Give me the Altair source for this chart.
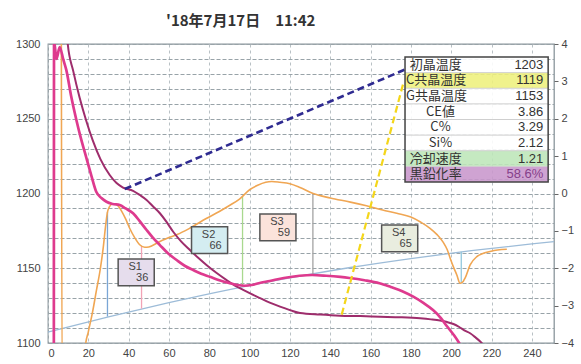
import altair as alt
import pandas as pd

# ---- thermal analysis traces -------------------------------------------
# cooling curve A (bright magenta), temperature in degC vs time in s
pink_x = [2.9, 3.0, 4.2, 5.8, 7.5, 9.1, 11.5, 14.1, 16.5, 19.0, 21.5, 24.0, 26.5,
          29.0, 32.0, 35.6, 38.5, 42.2, 45.5, 48.9, 52.0, 55.5, 59.5, 63.8, 68.0,
          72.0, 76.0, 80.3, 85.0, 90.2, 94.0, 97.5, 101.0, 104.5, 110.0, 117.0,
          124.8, 131.0, 138.0, 145.0, 149.5, 157.0, 164.4, 170.0, 176.0, 181.2,
          186.0, 191.0, 195.0, 198.0, 201.5, 204.4, 206.0]
pink_t = [1090, 1302, 1290, 1298, 1290, 1282.5, 1265, 1249, 1236, 1224, 1212, 1201,
          1197, 1194.5, 1193, 1192.3, 1190, 1186.8, 1181.5, 1175.6, 1170.5, 1165.5,
          1160, 1155.5, 1151.5, 1148.8, 1146.3, 1144.3, 1142, 1140, 1138.8, 1138.3,
          1138.8, 1140, 1141.5, 1143.5, 1145, 1145.5, 1145, 1144.2, 1143.5, 1142,
          1140, 1137.5, 1134.5, 1131, 1127, 1122, 1116.5, 1111, 1105, 1099, 1095]

# cooling curve B (dark magenta)
purple_x = [9.3, 9.8, 12.5, 15.7, 19.0, 22.2, 26.0, 30.6, 34.0, 37.2, 42.2, 45.5,
            48.9, 52.0, 55.5, 58.8, 62.1, 66.0, 70.4, 74.5, 78.6, 83.5, 88.6, 92.5,
            96.8, 100.5, 105.2, 110.0, 115.1, 120.0, 125.0, 135.0, 144.8, 155.0,
            164.7, 175.0, 184.6, 190.0, 194.5, 198.0, 201.1, 204.0, 206.5, 209.4,
            212.0, 214.4, 216.5]
purple_t = [1310, 1300, 1282, 1264, 1248.5, 1235.5, 1223, 1212.4, 1207, 1204, 1201.8,
            1199, 1195.7, 1191.5, 1186.8, 1181, 1174.4, 1168, 1162.2, 1157, 1152.2,
            1147, 1142.1, 1138.6, 1135.5, 1133, 1130, 1127, 1124.3, 1122, 1120, 1119,
            1118.3, 1118, 1117.6, 1117.2, 1116.5, 1115.8, 1115, 1114, 1112.7, 1110.7,
            1108.5, 1106.5, 1103.8, 1101, 1098]

# cooling-rate derivative (orange), right axis
orange_x = [6.6, 7.0, 18.0, 18.5, 20.0, 22.0, 24.0, 26.0, 27.5, 28.5, 29.5, 30.5,
            32.0, 33.5, 35.0, 36.5, 38.5, 40.5, 43.0, 45.5, 48.0, 50.0, 55.0, 60.0,
            64.0, 70.0, 78.5, 85.0, 90.0, 95.0, 100.0, 104.0, 108.0, 111.0, 115.0,
            120.0, 125.0, 131.5, 140.0, 150.0, 158.0, 166.0, 173.0, 180.0, 185.0,
            189.5, 193.0, 196.0, 198.0, 199.5, 201.0, 202.8, 204.4, 205.5, 207.0,
            209.4, 212.7, 216.0, 219.3, 223.0, 227.6]
orange_v = [5, -5, -5, -4.1, -3.7, -3.2, -2.6, -2.0, -1.4, -0.9, -0.5, -0.35, -0.28,
            -0.28, -0.35, -0.47, -0.68, -0.93, -1.18, -1.37, -1.44, -1.43, -1.3, -1.18,
            -1.1, -0.94, -0.67, -0.48, -0.32, -0.15, 0.1, 0.22, 0.3, 0.32, 0.3, 0.26,
            0.16, 0.0, -0.12, -0.23, -0.33, -0.44, -0.53, -0.63, -0.77, -0.93, -1.1,
            -1.3, -1.5, -1.73, -1.95, -2.18, -2.4, -2.38, -2.25, -1.91, -1.69, -1.6,
            -1.55, -1.51, -1.49]

# derivative baseline (light blue), right axis
base_x = [0, 30, 60, 90, 120, 150, 180, 210, 240, 251]
base_v = [-3.71, -3.30, -2.92, -2.57, -2.26, -1.98, -1.74, -1.53, -1.35, -1.29]

# stage markers: from the baseline up/down to the derivative curve
marker_x = [29.5, 46.4, 96.5, 131.4, 205.0]
marker_base = [-3.29, -3.08, -2.50, -2.16, -1.56]
marker_curve = [-0.5, -1.41, -0.08, 0.0, -2.39]
marker_color = ["#7aa6d6", "#f2a3b6", "#a9d98f", "#a3a3a3", "#92c8de"]

# stage areas
stage_names = ["S1", "S2", "S3", "S4"]
stage_values = [36, 66, 59, 65]

# summary table
table_labels = ["初晶温度", "C共晶温度", "G共晶温度", "CE値", "C%", "Si%", "冷却速度", "黒鉛化率"]
table_values = ["1203", "1119", "1153", "3.86", "3.29", "2.12", "1.21", "58.6%"]

# leader lines: liquidus point and eutectic plateau to their table rows
liquidus_x = [38.1, 177.1]
eutectic_x = [145.7, 176.5]
liquidus_t = [float(table_values[0]), 1282.9]
eutectic_t = [float(table_values[1]), 1275.0]

title_text = "'18年7月17日　11:42"

# ---- layout -------------------------------------------------------------
X_DOMAIN = [0, 251]
T_DOMAIN = [1100, 1300]
V_DOMAIN = [-4, 4]
FONT = "Liberation Sans"
JP = "Noto Sans CJK JP"

stage_x0 = [34.8, 71.2, 105.1, 165.5]
stage_top = [1156.2, 1177.8, 1186.3, 1179.0]
stage_w, stage_h = 17.9, 17.9
stage_fill = ["#e6dded", "#d4edf1", "#fbe3db", "#e9eddf"]

TBL_X0, TBL_X1 = 177.1, 248.1
TBL_TOP, ROW_H = 1291.3, 10.45
row_fill = ["#ffffff", "#eef07c", "#ffffff", "#ffffff", "#ffffff", "#ffffff",
            "#bde6b8", "#c896cc"]
label_x = [179.5, 177.6, 177.6, 194.7, 194.7, 194.7, 179.5, 179.5]
label_centered = [False, False, False, True, True, True, False, False]
value_color = ["#333333"] * 7 + ["#86408a"]


def xq(field="x"):
    return alt.X(f"{field}:Q",
                 scale=alt.Scale(domain=X_DOMAIN, nice=False, zero=False),
                 axis=alt.Axis(values=list(range(0, 241, 20)), format="d", title=None,
                               grid=True, gridColor="#b9c1c5", gridDash=[3, 3],
                               ticks=False, domain=False, labelPadding=4))


def tq(field="t"):
    return alt.Y(f"{field}:Q",
                 scale=alt.Scale(domain=T_DOMAIN, nice=False, zero=False),
                 axis=alt.Axis(orient="left", values=list(range(1100, 1301, 10)),
                               format="d", labelOverlap=False,
                               labelExpr="datum.value % 50 == 0 ? datum.label : ''",
                               title=None, grid=True, gridColor="#98a3a8",
                               gridDash=[4, 2], ticks=False, domain=False,
                               labelPadding=8))


def vq(field="v"):
    return alt.Y(f"{field}:Q",
                 scale=alt.Scale(domain=V_DOMAIN, nice=False, zero=False),
                 axis=alt.Axis(orient="right", values=list(range(-4, 5)), format="d",
                               title=None, grid=False, ticks=True, tickSize=4,
                               tickColor="#666666", domain=False, labelPadding=3))


# ---- right-axis layers (derivative) --------------------------------------
df_orange = pd.DataFrame({"x": orange_x, "v": orange_v})
df_base = pd.DataFrame({"x": base_x, "v": base_v})
df_mark = pd.DataFrame({"x": marker_x, "v": marker_base, "v2": marker_curve,
                        "c": marker_color})

baseline = alt.Chart(df_base).mark_line(color="#9dbcd8", strokeWidth=1.3, clip=True,
                                        interpolate="monotone").encode(x=xq(), y=vq())
markers = alt.Chart(df_mark).mark_rule(strokeWidth=1.3).encode(
    x=xq(), y=vq(), y2=alt.Y2("v2:Q"), color=alt.Color("c:N", scale=None))
orange = alt.Chart(df_orange).mark_line(color="#f0a653", strokeWidth=1.6, clip=True,
                                        interpolate="monotone").encode(x=xq(), y=vq())
right = alt.layer(baseline, markers, orange)

# ---- left-axis layers (temperature) --------------------------------------
df_pink = pd.DataFrame({"x": pink_x, "t": pink_t})
df_purple = pd.DataFrame({"x": purple_x, "t": purple_t})
df_liq = pd.DataFrame({"x": liquidus_x, "t": liquidus_t})
df_eut = pd.DataFrame({"x": eutectic_x, "t": eutectic_t})

purple = alt.Chart(df_purple).mark_line(color="#9e2d6c", strokeWidth=2.0, clip=True,
                                        interpolate="monotone").encode(x=xq(), y=tq())
pink = alt.Chart(df_pink).mark_line(color="#de3a8e", strokeWidth=2.7, clip=True,
                                    interpolate="monotone").encode(x=xq(), y=tq())
liq_line = alt.Chart(df_liq).mark_line(color="#2f2b91", strokeWidth=2.6,
                                       strokeDash=[7, 4]).encode(x=xq(), y=tq())
eut_line = alt.Chart(df_eut).mark_line(color="#f4d61a", strokeWidth=2.2,
                                       strokeDash=[7, 4]).encode(x=xq(), y=tq())

df_stage = pd.DataFrame({
    "x": stage_x0,
    "x1": [v + stage_w for v in stage_x0],
    "t": stage_top,
    "t1": [v - stage_h for v in stage_top],
    "xm": [v + stage_w / 2 for v in stage_x0],
    "tm": [v - stage_h / 2 for v in stage_top],
    "name": stage_names,
    "val": [str(v) for v in stage_values],
    "fill": stage_fill,
})
stage_box = alt.Chart(df_stage).mark_rect(stroke="#555555", strokeWidth=1.5).encode(
    x=xq(), x2=alt.X2("x1:Q"), y=tq(), y2=alt.Y2("t1:Q"),
    fill=alt.Color("fill:N", scale=None))
stage_name = alt.Chart(df_stage).mark_text(font=FONT, fontSize=11, color="#444444",
                                           dx=-1, dy=-5.5).encode(
    x=xq("xm"), y=tq("tm"), text="name:N")
stage_val = alt.Chart(df_stage).mark_text(font=FONT, fontSize=11, color="#444444",
                                          dx=6, dy=6).encode(
    x=xq("xm"), y=tq("tm"), text="val:N")

rows = list(range(len(table_labels)))
df_tbl = pd.DataFrame({
    "x": [TBL_X0] * len(rows),
    "x1": [TBL_X1] * len(rows),
    "t": [TBL_TOP - i * ROW_H for i in rows],
    "t1": [TBL_TOP - (i + 1) * ROW_H for i in rows],
    "tm": [TBL_TOP - (i + 0.5) * ROW_H for i in rows],
    "lx": label_x,
    "vx": [TBL_X1 - 2.4] * len(rows),
    "label": table_labels,
    "value": table_values,
    "fill": row_fill,
    "vcol": value_color,
    "centered": label_centered,
})
tbl_rows = alt.Chart(df_tbl).mark_rect(opacity=0.88).encode(
    x=xq(), x2=alt.X2("x1:Q"), y=tq(), y2=alt.Y2("t1:Q"),
    fill=alt.Color("fill:N", scale=None))
tbl_lines = alt.Chart(df_tbl.iloc[1:]).mark_rule(color="#cfcfcf", strokeWidth=1).encode(
    x=xq(), x2=alt.X2("x1:Q"), y=tq())
df_frame = pd.DataFrame({"x": [TBL_X0], "x1": [TBL_X1], "t": [TBL_TOP],
                         "t1": [TBL_TOP - len(rows) * ROW_H]})
tbl_frame = alt.Chart(df_frame).mark_rect(fillOpacity=0, stroke="#444444",
                                          strokeWidth=1.5).encode(
    x=xq(), x2=alt.X2("x1:Q"), y=tq(), y2=alt.Y2("t1:Q"))
tbl_label_left = alt.Chart(df_tbl[~df_tbl["centered"]]).mark_text(
    font=JP, fontSize=13, color="#333333", align="left", baseline="middle").encode(
    x=xq("lx"), y=tq("tm"), text="label:N")
tbl_label_mid = alt.Chart(df_tbl[df_tbl["centered"]]).mark_text(
    font=JP, fontSize=13, color="#333333", align="center", baseline="middle").encode(
    x=xq("lx"), y=tq("tm"), text="label:N")
tbl_value = alt.Chart(df_tbl).mark_text(
    font=FONT, fontSize=13, align="right", baseline="middle").encode(
    x=xq("vx"), y=tq("tm"), text="value:N", color=alt.Color("vcol:N", scale=None))

# date/time heading above the plot area
heading = alt.Chart(pd.DataFrame({"s": [title_text]})).mark_text(
    font=JP, fontSize=15, fontWeight="bold", color="#333333", align="left",
    baseline="middle").encode(x=alt.value(118), y=alt.value(-23), text="s:N")

left = alt.layer(purple, pink, liq_line, eut_line, stage_box, stage_name, stage_val,
                 tbl_rows, tbl_lines, tbl_frame, tbl_label_left, tbl_label_mid,
                 tbl_value, heading)

chart = alt.layer(right, left).resolve_scale(y="independent").properties(
    width=506, height=299,
    autosize=alt.AutoSizeParams(type="none"),
    padding={"left": 48, "top": 44, "right": 27, "bottom": 21},
    background="white",
).configure_axis(
    labelFont=FONT, labelFontSize=11, labelColor="#444444"
).configure_view(stroke="#8a969c", strokeWidth=1.3)

chart.save("out.html", embed_options={"renderer": "svg", "actions": False})
